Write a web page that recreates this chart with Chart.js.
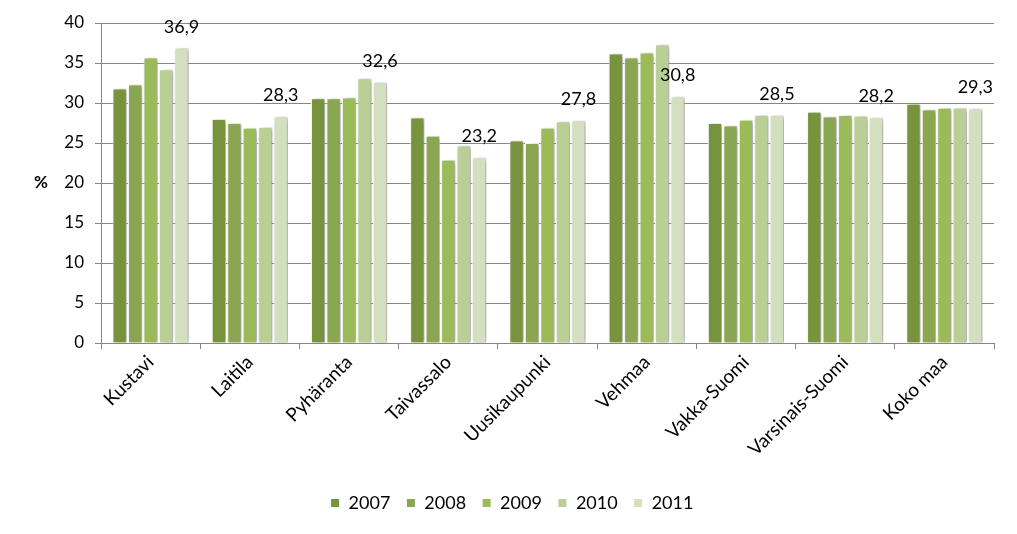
<!DOCTYPE html>
<html>
<head>
<meta charset="utf-8">
<script src="https://cdn.jsdelivr.net/npm/chart.js@4.4.1/dist/chart.umd.min.js"></script>
<style>
html,body{margin:0;padding:0;background:#fff;}
#c{display:block;}
</style>
</head>
<body>
<canvas id="c" width="1017" height="534"></canvas>
<script>
const categories = ["Kustavi","Laitila","Pyhäranta","Taivassalo","Uusikaupunki","Vehmaa","Vakka-Suomi","Varsinais-Suomi","Koko maa"];
const years = ["2007","2008","2009","2010","2011"];
const v2007 = [31.8, 28.0, 30.6, 28.2, 25.3, 36.2, 27.5, 28.9, 29.9];
const v2008 = [32.3, 27.5, 30.6, 25.9, 25.0, 35.7, 27.2, 28.3, 29.2];
const v2009 = [35.7, 26.9, 30.7, 22.9, 26.9, 36.3, 27.9, 28.5, 29.4];
const v2010 = [34.2, 27.0, 33.1, 24.7, 27.7, 37.3, 28.5, 28.4, 29.4];
const v2011 = [36.9, 28.3, 32.6, 23.2, 27.8, 30.8, 28.5, 28.2, 29.3];
const yTicks = [0,5,10,15,20,25,30,35,40];
const colors = ["#77933c","#8ba650","#9bbb59","#bacf95","#d3dfbe"];

const FONT = "Lato, 'Open Sans', sans-serif";
const series = [v2007, v2008, v2009, v2010, v2011];

const shadowPlugin = {
  id: 'shadow',
  beforeDatasetsDraw(chart) {
    const ctx = chart.ctx;
    ctx.save();
    ctx.shadowColor = 'rgba(0,0,0,0.4)';
    ctx.shadowBlur = 4;
    ctx.shadowOffsetX = 2;
    ctx.shadowOffsetY = 1;
  },
  afterDatasetsDraw(chart) {
    chart.ctx.restore();
  }
};

const labelPlugin = {
  id: 'labels',
  afterDraw(chart) {
    const ctx = chart.ctx;
    ctx.save();
    ctx.font = "18px " + FONT;
    ctx.fillStyle = "#000";
    ctx.textAlign = "center";
    ctx.textBaseline = "middle";
    const meta = chart.getDatasetMeta(4);
    meta.data.forEach((el, i) => {
      const txt = v2011[i].toFixed(1).replace('.', ',');
      ctx.fillText(txt, el.x, el.y - 21);
    });
    const ys = chart.scales.y;
    ctx.font = "bold 17px " + FONT;
    ctx.fillText("%", 41, ys.getPixelForValue(20));
    ctx.restore();
  }
};

const legendFit = {
  id: 'legendFit',
  beforeInit(chart) {
    const fit = chart.legend.fit;
    chart.legend.fit = function() {
      fit.call(this);
      this.height = 56;
    };
  }
};

new Chart(document.getElementById('c'), {
  type: 'bar',
  data: {
    labels: categories,
    datasets: years.map((y, i) => ({
      label: y,
      data: series[i],
      backgroundColor: colors[i],
      borderColor: '#ffffff',
      borderWidth: 1,
      categoryPercentage: 0.78,
      barPercentage: 0.92
    }))
  },
  options: {
    responsive: false,
    animation: false,
    devicePixelRatio: 1,
    layout: { padding: { left: 30, right: 23, top: 23, bottom: 0 } },
    plugins: {
      legend: {
        position: 'bottom',
        labels: {
          boxWidth: 9,
          boxHeight: 9,
          padding: 16,
          color: '#000',
          font: { family: FONT, size: 18 }
        }
      },
      tooltip: { enabled: false }
    },
    scales: {
      x: {
        offset: true,
        grid: { offset: true, drawOnChartArea: false, drawTicks: true, tickLength: 6, color: '#868686' },
        border: { color: '#868686', width: 1 },
        ticks: { minRotation: 45, maxRotation: 45, color: '#000', padding: 2, font: { family: FONT, size: 19 } },
        afterFit(s) { s.height = 135; }
      },
      y: {
        min: 0, max: 40,
        afterBuildTicks(s) { s.ticks = yTicks.map(v => ({ value: v })); },
        grid: { color: '#868686', tickLength: 6, drawTicks: true },
        border: { color: '#868686', width: 1 },
        ticks: { color: '#000', padding: 11, font: { family: FONT, size: 17 } },
        afterFit(s) { s.width = 71; }
      }
    }
  },
  plugins: [legendFit, shadowPlugin, labelPlugin]
});
</script>
</body>
</html>
